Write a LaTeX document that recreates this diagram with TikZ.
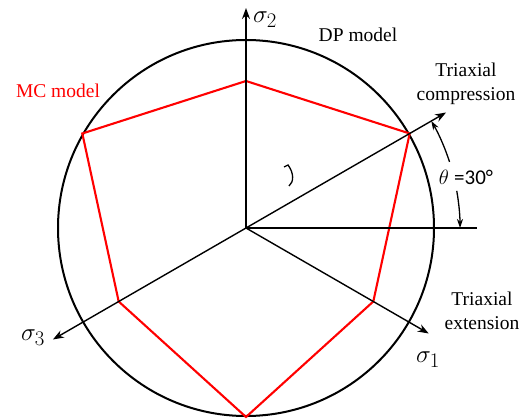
\documentclass[tikz,border=0pt]{standalone}
\usepackage{fontspec}
\setmainfont{Liberation Serif}
\newfontfamily\calib{Carlito}
\usetikzlibrary{arrows.meta,calc}
\begin{document}
\begin{tikzpicture}[x=1pt,y=1pt,
  axis/.style={line width=1.4pt,-{Stealth[length=11pt,width=8pt]}},
  thinl/.style={line width=1.3pt},
  mc/.style={red,line width=2.1pt,line join=miter},
  lbl/.style={font=\fontsize{19.5}{24}\selectfont,inner sep=0pt,align=center},
  sig/.style={font=\fontsize{29}{32}\selectfont,inner sep=0pt}]
\useasboundingbox (0,0) rectangle (521,418);
\coordinate (O) at (246,190);
% DP circle
\draw[line width=2pt] (O) circle (188);
% MC hexagon
\coordinate (m1) at ($(O)+(90:147)$);
\coordinate (m2) at ($(O)+(150:189)$);
\coordinate (m3) at ($(O)+(210:147)$);
\coordinate (m4) at ($(O)+(270:189)$);
\coordinate (m5) at ($(O)+(330:147)$);
\coordinate (m6) at ($(O)+(30:189)$);
\draw[mc] (m1) -- (m2) -- (m3) -- (m4) -- (m5) -- (m6) -- cycle;
% axes
\coordinate (s2) at ($(O)+(90:220)$);
\coordinate (s3) at ($(O)+(210:223)$);
\coordinate (s1) at ($(O)+(330:211)$);
\coordinate (tc) at ($(O)+(30:231)$);
\coordinate (hz) at ($(O)+(0:231)$);
\draw[axis] (O) -- (s2);
\draw[axis] (O) -- (s3);
\draw[axis] (O) -- (s1);
\draw[axis] (O) -- (tc);
\draw[thinl] (O) -- (hz);
% angle arc
\coordinate (a1) at ($(O)+(18:214)$);
\coordinate (a2) at ($(O)+(10:214)$);
\draw[thinl,-{Stealth[length=9pt,width=6pt]}] (a1) arc[start angle=18,end angle=30,radius=214];
\draw[thinl,-{Stealth[length=9pt,width=6pt]}] (a2) arc[start angle=10,end angle=0,radius=214];
\node[inner sep=0pt,font=\fontsize{21}{24}\selectfont] (th) at (466,241) {$\theta$ {\calib =30°}};
% small hook mark
\draw[line width=1.3pt] (284,251) -- (288,253) .. controls (294,245) and (294,236) .. (289,232);
% labels
\node[lbl,red] (mcl) at (58,327) {MC model};
\node[lbl] (dpl) at (358,383) {DP model};
\node[lbl] (tcl) at (466,334) {Triaxial\\compression};
\node[lbl] (tel) at (482,107) {Triaxial\\extension};
\node[sig] (l2) at (265,398) {$\sigma_2$};
\node[sig] (l3) at (33,80) {$\sigma_3$};
\node[sig] (l1) at (428,58) {$\sigma_1$};
\end{tikzpicture}
\end{document}
